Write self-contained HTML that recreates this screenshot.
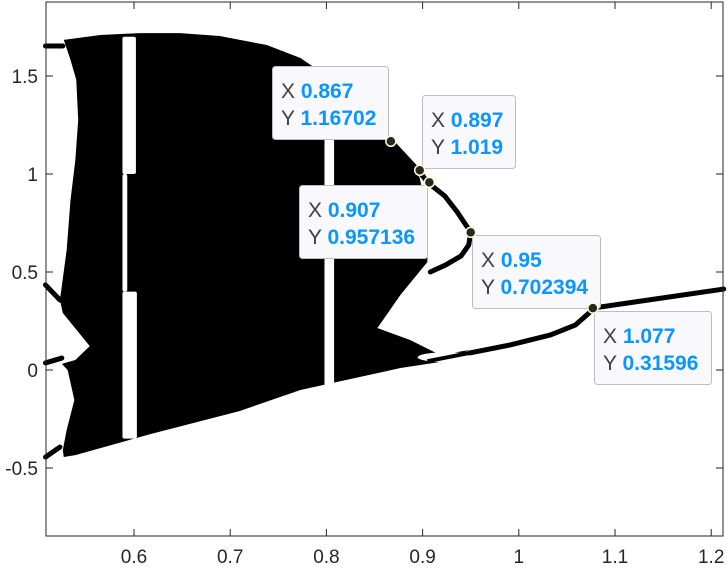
<!DOCTYPE html>
<html><head><meta charset="utf-8"><style>
html,body{margin:0;padding:0;background:#fff}
svg{display:block;font-family:"Liberation Sans",sans-serif}
</style></head><body>
<svg id="c" width="728" height="570" viewBox="0 0 728 570"></svg>
<script>
// ---- data ----
const xTicks=[0.6,0.7,0.8,0.9,1,1.1,1.2];
const xTickLabels=["0.6","0.7","0.8","0.9","1","1.1","1.2"];
const yTicks=[-0.5,0,0.5,1,1.5];
const yTickLabels=["-0.5","0","0.5","1","1.5"];
// chaotic region outline (x values, y values)
const chaosX=[0.527,0.565,0.606,0.648,0.689,0.738,0.773,0.814,0.845,0.867,0.890,0.897,0.902,0.905,0.905,0.877,0.853,0.887,0.918,0.949,0.918,0.877,0.773,0.710,0.617,0.539,0.527,0.526,0.530,0.538,0.531,0.525,0.539,0.554,0.526,0.523,0.530,0.534,0.539,0.542,0.540,0.534];
const chaosY=[1.684,1.709,1.719,1.719,1.704,1.658,1.592,1.454,1.301,1.168,1.031,0.980,0.867,0.663,0.551,0.383,0.214,0.153,0.077,0.102,0.041,0.010,-0.102,-0.209,-0.327,-0.434,-0.444,-0.408,-0.306,-0.153,0.000,0.031,0.051,0.122,0.291,0.357,0.612,0.867,1.071,1.276,1.480,1.582];
// periodic windows (white gaps): x start, x end, y top, y bottom
const winX0=[0.588,0.588,0.588,0.798];
const winX1=[0.602,0.593,0.603,0.808];
const winYTop=[1.70,1.00,0.40,1.18];
const winYBot=[1.00,0.40,-0.35,-0.09];
// stable branches
const upperBranchX=[0.867,0.896,0.906,0.923,0.936,0.945,0.950,0.948,0.940,0.924,0.908];
const upperBranchY=[1.168,1.015,0.954,0.888,0.806,0.740,0.704,0.638,0.582,0.536,0.500];
const lowerBranchX=[0.949,0.991,1.033,1.059,1.073,1.077];
const lowerBranchY=[0.087,0.128,0.179,0.230,0.291,0.316];
const period1X=[1.077,1.213];
const period1Y=[0.316,0.413];
const leftTopX=[0.508,0.526]; const leftTopY=[1.653,1.653];
const leftMidX=[0.508,0.523]; const leftMidY=[0.434,0.357];
const leftLowX=[0.508,0.525]; const leftLowY=[0.036,0.061];
const leftBotX=[0.508,0.523]; const leftBotY=[-0.444,-0.393];
// data tips
const tipX=[0.867,0.897,0.907,0.95,1.077];
const tipY=[1.16702,1.019,0.957136,0.702394,0.31596];
const tipXLabel=["0.867","0.897","0.907","0.95","1.077"];
const tipYLabel=["1.16702","1.019","0.957136","0.702394","0.31596"];
const tipBoxX=[272,422,299,472,594];
const tipBoxY=[66,95,185,235,311];
const tipBoxW=[116,93,128,128,117];

// ---- scales ----
const xs=x=>134+(x-0.6)*962;
const ys=y=>370-y*196;
const NS="http://www.w3.org/2000/svg";
const svg=document.getElementById('c');
function mk(tag,attrs,parent){const e=document.createElementNS(NS,tag);for(const k in attrs)e.setAttribute(k,attrs[k]);(parent||svg).appendChild(e);return e;}
const L=46,R=723,T=2,B=536;

const poly=mk('polygon',{points:chaosX.map((x,i)=>xs(x)+','+ys(chaosY[i])).join(' '),fill:'#000'});


winX0.forEach((x0,i)=>{
  const r=mk('rect',{x:xs(x0),y:ys(winYTop[i]),width:xs(winX1[i])-xs(x0),height:ys(winYBot[i])-ys(winYTop[i]),fill:'#fff',rx:2});
  
  
});
const lens=mk('ellipse',{cx:xs(0.925),cy:ys(0.065),rx:29,ry:5,fill:'#fff'});


mk('line',{x1:xs(0.905),y1:ys(0.045),x2:xs(0.949),y2:ys(0.087),stroke:'#000','stroke-width':4});
function line(xa,ya,name){
  const p=mk('polyline',{points:xa.map((x,i)=>xs(x)+','+ys(ya[i])).join(' '),fill:'none',stroke:'#000','stroke-width':5,'stroke-linejoin':'round','stroke-linecap':'round'});
  
  
}
line(upperBranchX,upperBranchY,'upper-branch');
line(lowerBranchX,lowerBranchY,'lower-branch');
line(period1X,period1Y,'period-one-branch');
line(leftTopX,leftTopY,'left-top-branch');
line(leftMidX,leftMidY,'left-mid-branch');
line(leftLowX,leftLowY,'left-low-branch');
line(leftBotX,leftBotY,'left-bottom-branch');

const box=mk('rect',{x:L,y:T,width:R-L,height:B-T,fill:'none',stroke:'#262626','stroke-width':1});


xTicks.forEach((t,i)=>{
  const x=xs(t);
  mk('line',{x1:x,y1:B,x2:x,y2:B-7,stroke:'#262626'});
  mk('line',{x1:x,y1:T,x2:x,y2:T+7,stroke:'#262626'});
  const tx=mk('text',{x:x,y:563,'text-anchor':'middle','font-size':19,fill:'#262626'});
  tx.textContent=xTickLabels[i];
  
  
});
yTicks.forEach((t,i)=>{
  const y=ys(t);
  mk('line',{x1:L,y1:y,x2:L+7,y2:y,stroke:'#262626'});
  mk('line',{x1:R,y1:y,x2:R-7,y2:y,stroke:'#262626'});
  const tx=mk('text',{x:38,y:y+7,'text-anchor':'end','font-size':19,fill:'#262626'});
  tx.textContent=yTickLabels[i];
  
  
});

tipX.forEach((x,i)=>{
  const g=mk('g',{});
  
  
  const bx=tipBoxX[i],by=tipBoxY[i];
  mk('rect',{x:bx+0.5,y:by+0.5,width:tipBoxW[i],height:73,rx:3,fill:'#f8f8fd',stroke:'#bdbdbd','stroke-width':1},g);
  const t1=mk('text',{x:bx+9,y:by+32,'font-size':21,fill:'#404040'},g);
  t1.innerHTML='X <tspan font-weight="bold" fill="#0a96ff">'+tipXLabel[i]+'</tspan>';
  const t2=mk('text',{x:bx+9,y:by+59,'font-size':21,fill:'#404040'},g);
  t2.innerHTML='Y <tspan font-weight="bold" fill="#0a96ff">'+tipYLabel[i]+'</tspan>';
});
tipX.forEach((x,i)=>{
  const c=mk('circle',{cx:xs(x),cy:ys(tipY[i]),r:5,fill:'#262626',stroke:'#ffffc8','stroke-width':1.5});
  
  
});
</script>
</body></html>
